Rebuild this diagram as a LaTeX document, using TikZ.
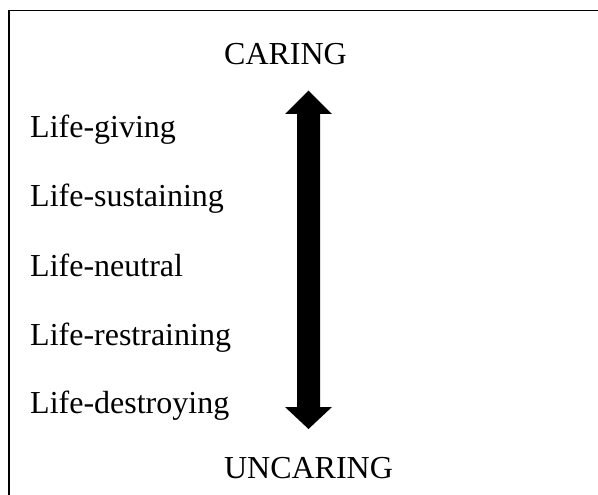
\documentclass[tikz,border=0pt]{standalone}
\usepackage{fontspec}
\setmainfont{Liberation Serif}
\usetikzlibrary{calc}
\begin{document}
\begin{tikzpicture}[x=1pt,y=-1pt,
  lbl/.style={anchor=base west,inner sep=0pt,font=\fontsize{32}{38}\selectfont},
  pole/.style={anchor=base,inner sep=0pt,font=\fontsize{32}{38}\selectfont},
  frameline/.style={line width=1.8pt}]
\useasboundingbox (0,0) rectangle (598,495);
\coordinate (bl) at (9,495);
\coordinate (tl) at (9,10.5);
\coordinate (tr) at (598,10.5);
\draw[frameline] (bl) -- (tl) -- (tr);
\node[pole] (caring) at (285.5,65) {CARING};
\node[pole] (uncaring) at (308.5,478) {UNCARING};
\node[lbl] (giving) at (30,138) {Life-giving};
\node[lbl] (sustaining) at (30,207) {Life-sustaining};
\node[lbl] (neutral) at (30,276) {Life-neutral};
\node[lbl] (restraining) at (30,345) {Life-restraining};
\node[lbl] (destroying) at (30,413) {Life-destroying};
\coordinate (up) at (308.5,90.7);
\coordinate (dn) at (308.5,429);
\fill (up) -- ($(up)+(23.5,23.3)$) -- ($(up)+(11.5,23.3)$) -- ($(dn)+(11.5,-22)$)
  -- ($(dn)+(23.5,-22)$) -- (dn) -- ($(dn)+(-23.5,-22)$) -- ($(dn)+(-11.5,-22)$)
  -- ($(up)+(-11.5,23.3)$) -- ($(up)+(-23.5,23.3)$) -- cycle;
\end{tikzpicture}
\end{document}
